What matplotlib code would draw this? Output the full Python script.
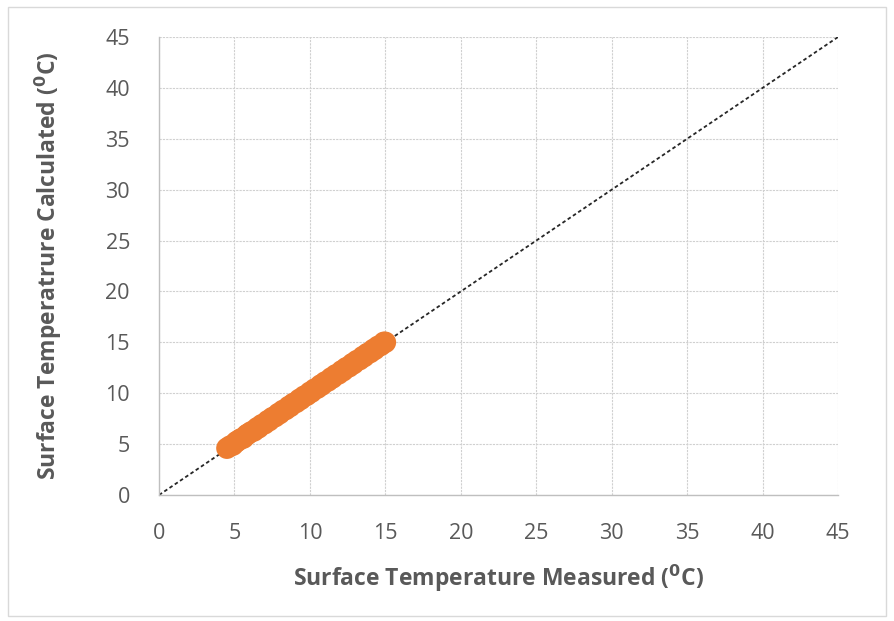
import matplotlib.pyplot as plt
from matplotlib.patches import Rectangle

# measured vs calculated surface temperature (deg C)
measured = [4.5, 4.7, 4.9, 5.1, 5.2, 5.4, 5.6, 5.8, 5.9, 6.1, 6.3, 6.5, 6.6, 6.8,
            7.0, 7.2, 7.3, 7.5, 7.7, 7.9, 8.0, 8.2, 8.4, 8.6, 8.7, 8.9, 9.1, 9.3,
            9.4, 9.6, 9.8, 10.0, 10.1, 10.3, 10.5, 10.7, 10.8, 11.0, 11.2, 11.4,
            11.5, 11.7, 11.9, 12.1, 12.2, 12.4, 12.6, 12.8, 12.9, 13.1, 13.3,
            13.5, 13.6, 13.8, 14.0, 14.2, 14.3, 14.5, 14.7, 14.9, 15.0]
calculated = [4.6, 4.8, 4.9, 5.2, 5.3, 5.5, 5.6, 5.9, 6.0, 6.2, 6.3, 6.6, 6.6, 6.9,
              7.0, 7.3, 7.3, 7.6, 7.7, 8.0, 8.0, 8.3, 8.4, 8.7, 8.7, 9.0, 9.1, 9.4,
              9.4, 9.7, 9.8, 10.1, 10.1, 10.4, 10.5, 10.8, 10.8, 11.1, 11.2, 11.5,
              11.5, 11.8, 11.9, 12.2, 12.2, 12.5, 12.6, 12.9, 12.9, 13.2, 13.3,
              13.6, 13.6, 13.9, 14.0, 14.3, 14.3, 14.6, 14.7, 15.0, 15.0]
line_x = [0, 45]
line_y = [0, 45]
ticks = [0, 5, 10, 15, 20, 25, 30, 35, 40, 45]

fig = plt.figure(figsize=(8.94, 6.21), dpi=100)
ax = fig.add_axes([0.1779, 0.2029, 0.7595, 0.7375])

# outer chart border
fig.patches.append(Rectangle((0.009, 0.008), 0.982, 0.98, transform=fig.transFigure,
                             fill=False, edgecolor="#d9d9d9", linewidth=1.0))

ax.plot(line_x, line_y, color="#262626", linestyle=(0, (2, 1.5)), linewidth=1.3, zorder=2)
ax.scatter(measured, calculated, s=240, color="#ed7d31", edgecolors="none", zorder=3)

ax.set_xlim(0, 45)
ax.set_ylim(0, 45)
ax.set_xticks(ticks)
ax.set_yticks(ticks)
ax.grid(True, color="#d0d0d0", linestyle=(0, (2, 1)), linewidth=0.8)
ax.set_axisbelow(True)
for side in ["top", "right"]:
    ax.spines[side].set_visible(False)
for side in ["left", "bottom"]:
    ax.spines[side].set_color("#bfbfbf")
    ax.spines[side].set_linewidth(1.0)
ax.tick_params(axis="x", length=0, labelsize=15.5, colors="#595959", pad=20)
ax.tick_params(axis="y", length=0, labelsize=15.5, colors="#595959", pad=21)
for lbl in ax.get_xticklabels() + ax.get_yticklabels():
    lbl.set_family(["Open Sans", "DejaVu Sans"])

ax.set_xlabel("Surface Temperature Measured ($\\mathbf{^{0}}$C)", fontsize=16.5,
              fontweight="bold", color="#595959", family=["Open Sans", "DejaVu Sans"],
              labelpad=14)
ax.set_ylabel("Surface Temperatrure Calculated ($\\mathbf{^{0}}$C)", fontsize=16.5,
              fontweight="bold", color="#595959", family=["Open Sans", "DejaVu Sans"],
              labelpad=30)

fig.savefig("out.png", dpi=100)
